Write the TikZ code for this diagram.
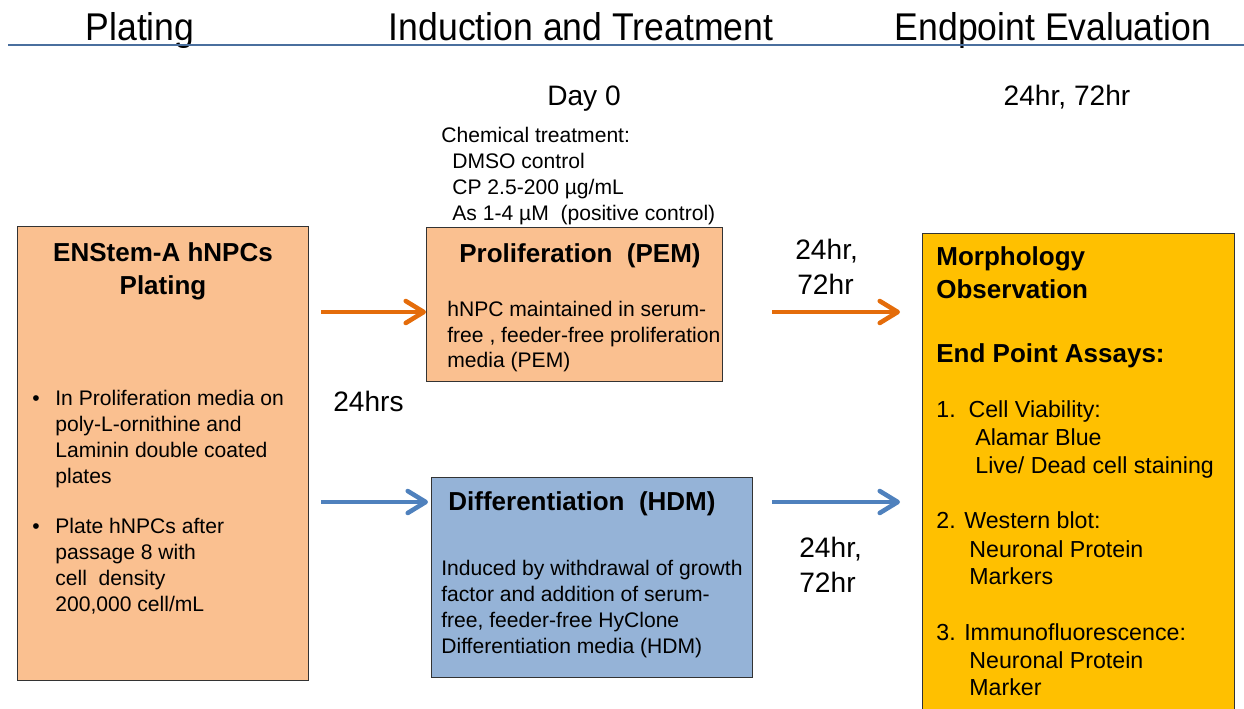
\documentclass[tikz,border=0pt]{standalone}
\usepackage{fontspec}
\setmainfont{Liberation Sans}
\usepackage{tikz}
\usepackage{xcolor}
\usetikzlibrary{calc}
\usetikzlibrary{arrows.meta}
\usetikzlibrary{positioning}

\definecolor{peach}{HTML}{FAC090}
\definecolor{paleBlue}{HTML}{95B3D7}
\definecolor{gold}{HTML}{FFC000}
\definecolor{arrowOrange}{HTML}{E46C0A}
\definecolor{arrowBlue}{HTML}{4F81BD}
\definecolor{ruleBlue}{HTML}{4A6F9E}

\begin{document}
\begin{tikzpicture}[x=0.02cm, y=-0.02cm,
		box/.style={draw=black!80, line width=0.8pt, inner sep=0pt, anchor=north west},
		title/.style={font=\fontsize{22}{26}\selectfont, anchor=base, inner sep=0pt},
		lbl/.style={font=\fontsize{16}{19}\selectfont, anchor=base west, inner sep=0pt},
		txt/.style={font=\fontsize{12}{14}\selectfont, anchor=base west, inner sep=0pt},
		head/.style={font=\fontsize{14.8}{17}\bfseries\selectfont, inner sep=0pt},
		assay/.style={font=\fontsize{13.2}{15}\selectfont, anchor=base west, inner sep=0pt},
		arrO/.style={draw=arrowOrange, line width=2.6pt, -{Straight Barb[length=0.36cm, width=0.44cm, round]}},
		arrB/.style={draw=arrowBlue, line width=2.6pt, -{Straight Barb[length=0.36cm, width=0.44cm, round]}}]
		
		\useasboundingbox (0,0) rectangle (1244,708);
		\clip (0,0) rectangle (1244,708);
		
		% column titles
		\node[title] (tPlating) at (140,40) {\scalebox{0.92}[1]{Plating}};
		\node[title] (tInduction) at (581,40) {\scalebox{0.92}[1]{Induction and Treatment}};
		\node[title] (tEndpoint) at (1053,40) {\scalebox{0.92}[1]{Endpoint Evaluation}};
		\draw[ruleBlue, line width=0.9pt] (8,45) -- (1244,45);		% header rule
		
		% time labels
		\node[lbl, anchor=base] (dayZero) at (584,105) {Day 0};
		\node[lbl, anchor=base] (endTimes) at (1067,105) {24hr,\ 72hr};
		\node[lbl] (plateTime) at (333,411) {24hrs};
		\node[lbl] (timeTopA) at (795,259) {24hr,};
		\node[lbl] (timeTopB) at (797,294) {72hr};
		\node[lbl] (timeLowA) at (799,557) {24hr,};
		\node[lbl] (timeLowB) at (799,592) {72hr};
		
		% chemical treatment
		\node[txt] (chemHead) at (441,142) {Chemical treatment:};
		\node[txt] (chemA) at (452,168) {DMSO control};
		\node[txt] (chemB) at (452,194) {CP 2.5-200 µg/mL};
		\node[txt] (chemC) at (452,220) {As 1-4 µM\ \ (positive control)};
		
		% boxes
		\node[box, fill=peach, minimum width=5.82cm, minimum height=9.08cm] (plating) at (17,226) {};
		\node[box, fill=peach, minimum width=5.92cm, minimum height=3.08cm] (prolif) at (426,227) {};
		\node[box, fill=paleBlue, minimum width=6.42cm, minimum height=4.0cm] (diff) at (431,477) {};
		\node[box, fill=gold, minimum width=6.24cm, minimum height=9.8cm] (endpoint) at (922,233) {};
		
		% plating box text
		\node[head, anchor=base] (platingHeadA) at (163,261) {ENStem-A hNPCs};
		\node[head, anchor=base] (platingHeadB) at (163,294) {Plating};
		\node[txt] (bulletA) at (32,405) {•};
		\node[txt] (platA) at (55,405) {In Proliferation media on};
		\node[txt] (platB) at (55,431) {poly-L-ornithine and};
		\node[txt] (platC) at (55,457) {Laminin double coated};
		\node[txt] (platD) at (55,483) {plates};
		\node[txt] (bulletB) at (32,533) {•};
		\node[txt] (platE) at (55,533) {Plate hNPCs after};
		\node[txt] (platF) at (55,559) {passage 8 with};
		\node[txt] (platG) at (55,585) {cell\ \ density};
		\node[txt] (platH) at (55,611) {200,000 cell/mL};
		
		% proliferation box text
		\node[head, anchor=base] (prolifHead) at (580,262) {Proliferation\ \ (PEM)};
		\node[txt] (prolifA) at (447,316) {hNPC maintained in serum-};
		\node[txt] (prolifB) at (447,342) {free , feeder-free proliferation};
		\node[txt] (prolifC) at (447,367) {media (PEM)};
		
		% differentiation box text
		\node[head, anchor=base west] (diffHead) at (448,510) {Differentiation\ \ (HDM)};
		\node[txt] (diffA) at (441,575) {Induced by withdrawal of growth};
		\node[txt] (diffB) at (441,601) {factor and addition of serum-};
		\node[txt] (diffC) at (441,627) {free, feeder-free HyClone};
		\node[txt] (diffD) at (441,653) {Differentiation media (HDM)};
		
		% endpoint box text
		\node[head, anchor=base west] (morphA) at (936,265) {Morphology};
		\node[head, anchor=base west] (morphB) at (936,298) {Observation};
		\node[head, anchor=base west] (assayHead) at (936,362) {End Point Assays:};
		\node[assay] (assayA) at (936,417) {1.\ \ Cell Viability:};
		\node[assay] (assayAa) at (975,445) {Alamar Blue};
		\node[assay] (assayAb) at (975,473) {Live/ Dead cell staining};
		\node[assay] (assayB) at (936,528) {2. Western blot:};
		\node[assay] (assayBa) at (969,557) {Neuronal Protein};
		\node[assay] (assayBb) at (969,584) {Markers};
		\node[assay] (assayC) at (936,640) {3. Immunofluorescence:};
		\node[assay] (assayCa) at (969,668) {Neuronal Protein};
		\node[assay] (assayCb) at (969,695) {Marker};
		
		% arrows
		\coordinate (rowP) at (0,312);
		\coordinate (rowD) at (0,502);
		\coordinate (gapStart) at (772,0);
		\draw[arrO] ([xshift=0.24cm]plating.east |- rowP) -- (prolif.west |- rowP);
		\draw[arrB] ([xshift=0.24cm]plating.east |- rowD) -- ([xshift=-0.06cm]diff.west |- rowD);
		\draw[arrO] (gapStart |- rowP) -- ([xshift=-0.44cm]endpoint.west |- rowP);
		\draw[arrB] (gapStart |- rowD) -- ([xshift=-0.44cm]endpoint.west |- rowD);
		\end{tikzpicture}
\end{document}
